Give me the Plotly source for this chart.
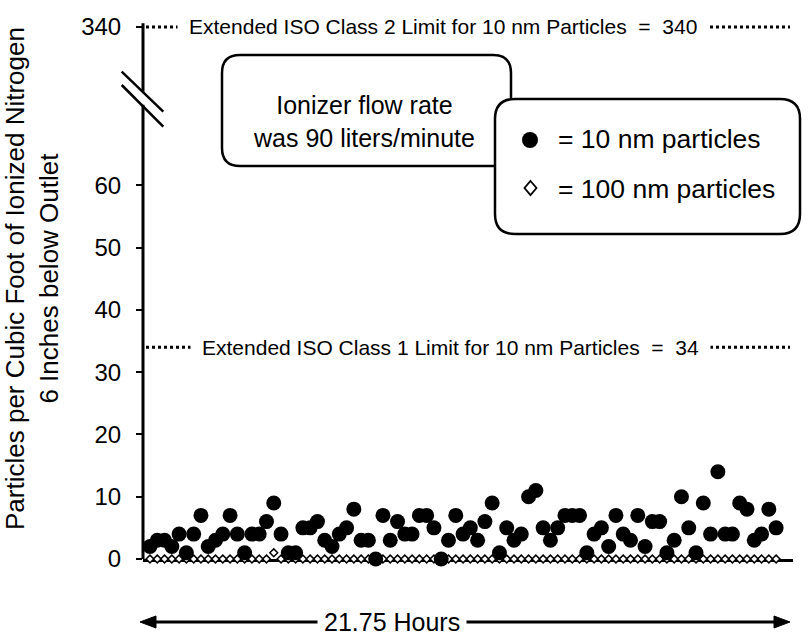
import plotly.graph_objects as go
import numpy as np

# ---------------- data ----------------
nm10 = [2, 3, 3, 2, 4, 1, 4, 7, 2, 3,
        4, 7, 4, 1, 4, 4, 6, 9, 4, 1,
        1, 5, 5, 6, 3, 2, 4, 5, 8, 3,
        3, 0, 7, 3, 6, 4, 4, 7, 7, 5,
        0, 3, 7, 4, 5, 3, 6, 9, 1, 5,
        3, 4, 10, 11, 5, 3, 5, 7, 7, 7,
        1, 4, 5, 2, 7, 4, 3, 7, 2, 6,
        6, 1, 3, 10, 5, 1, 9, 4, 14, 4,
        4, 9, 8, 3, 4, 8, 5]
nm100 = [0] * 17 + [1] + [0] * 69
hours = list(np.arange(len(nm10)) * 0.25)   # one sample every 15 minutes

ytick_vals = [0, 10, 20, 30, 40, 50, 60]
class1_limit = 34
class2_limit = 340
class2_pos = 85.4          # where 340 sits above the axis break
break_low, break_high = 72.9, 75.0
axis_top = 86.0

class1_text = "Extended ISO Class 1 Limit for 10 nm Particles  =  34"
class2_text = "Extended ISO Class 2 Limit for 10 nm Particles  =  340"
note_text = "Ionizer flow rate<br>was 90 liters/minute"
legend10 = "= 10 nm particles"
legend100 = "= 100 nm particles"
xlabel = "21.75 Hours"
ytitle = "Particles per Cubic Foot of Ionized Nitrogen<br>6 Inches below Outlet"

# ---------------- geometry helpers ----------------
W, H = 812, 639
L, R, T, B = 143, 793, 20, 559
FONT = "Arial, Liberation Sans, sans-serif"


def px(x):
    return (x - L) / (R - L)


def py(y):
    return (B - y) / (B - T)


def rrect(x0, y0, x1, y1, r):
    pts = [("M", x0 + r, y0), ("L", x1 - r, y0), ("Q", x1, y0, x1, y0 + r),
           ("L", x1, y1 - r), ("Q", x1, y1, x1 - r, y1), ("L", x0 + r, y1),
           ("Q", x0, y1, x0, y1 - r), ("L", x0, y0 + r), ("Q", x0, y0, x0 + r, y0)]
    s = ""
    for p in pts:
        cmd = p[0]
        coords = p[1:]
        parts = []
        for i in range(0, len(coords), 2):
            parts.append(f"{px(coords[i]):.5f},{py(coords[i+1]):.5f}")
        s += cmd + " " + " ".join(parts) + " "
    return s + "Z"


def poly(points):
    s = "M " + " L ".join(f"{px(a):.5f},{py(b):.5f}" for a, b in points) + " Z"
    return s


fig = go.Figure()

fig.add_trace(go.Scatter(
    x=hours, y=nm100, mode="markers", cliponaxis=False,
    marker=dict(symbol="diamond", size=6, color="white",
                line=dict(color="black", width=1.5)),
    showlegend=False, hoverinfo="skip"))
fig.add_trace(go.Scatter(
    x=hours, y=nm10, mode="markers", cliponaxis=False,
    marker=dict(symbol="circle", size=15, color="black",
                line=dict(width=0)),
    showlegend=False, hoverinfo="skip"))

shapes = []
# y axis line with break
shapes.append(dict(type="line", xref="paper", yref="y", x0=0, x1=0, y0=0, y1=break_low,
                   line=dict(color="black", width=3)))
shapes.append(dict(type="line", xref="paper", yref="y", x0=0, x1=0, y0=break_high, y1=axis_top,
                   line=dict(color="black", width=3)))
for (a, b, c, d) in [(121.7, 71.7, 163.3, 111.7), (121.7, 85.0, 163.3, 126.7)]:
    shapes.append(dict(type="line", xref="paper", yref="paper",
                       x0=px(a), y0=py(b), x1=px(c), y1=py(d),
                       line=dict(color="black", width=2.5)))
# limit lines (dotted)
for yv in [class1_limit, class2_pos]:
    shapes.append(dict(type="line", xref="paper", yref="y", x0=px(146), x1=px(790),
                       y0=yv, y1=yv, line=dict(color="black", width=3, dash="3px,3px")))
# note box and legend box
shapes.append(dict(type="path", xref="paper", yref="paper",
                   path=rrect(222, 55, 511, 166, 18),
                   line=dict(color="black", width=2.5), fillcolor="white"))
shapes.append(dict(type="path", xref="paper", yref="paper",
                   path=rrect(495, 99, 800, 234, 20),
                   line=dict(color="black", width=2.5), fillcolor="white"))
# legend symbols
shapes.append(dict(type="circle", xref="paper", yref="paper",
                   x0=px(522), x1=px(538), y0=py(132), y1=py(148),
                   line=dict(color="black", width=0), fillcolor="black"))
shapes.append(dict(type="path", xref="paper", yref="paper",
                   path=poly([(530.5, 181), (536.5, 188), (530.5, 195), (524.5, 188)]),
                   line=dict(color="black", width=1.8), fillcolor="white"))
# bottom double arrow
shapes.append(dict(type="line", xref="paper", yref="paper",
                   x0=px(150), x1=px(780), y0=py(622), y1=py(622),
                   line=dict(color="black", width=3)))
shapes.append(dict(type="path", xref="paper", yref="paper",
                   path=poly([(140, 622), (156, 616), (156, 628)]),
                   line=dict(color="black", width=1), fillcolor="black"))
shapes.append(dict(type="path", xref="paper", yref="paper",
                   path=poly([(790, 622), (774, 616), (774, 628)]),
                   line=dict(color="black", width=1), fillcolor="black"))

annotations = []
annotations.append(dict(xref="paper", yref="y", x=px(450), y=class1_limit, text=class1_text,
                        showarrow=False, font=dict(family=FONT, size=21, color="black"),
                        bgcolor="white", borderpad=11, xanchor="center", yanchor="middle"))
annotations.append(dict(xref="paper", yref="y", x=px(443), y=class2_pos, text=class2_text,
                        showarrow=False, font=dict(family=FONT, size=21, color="black"),
                        bgcolor="white", borderpad=11, xanchor="center", yanchor="middle"))
annotations.append(dict(xref="paper", yref="paper", x=px(364), y=py(121), text=note_text,
                        showarrow=False, font=dict(family=FONT, size=25, color="black"),
                        align="center", xanchor="center", yanchor="middle"))
annotations.append(dict(xref="paper", yref="paper", x=px(556), y=py(139), text=legend10,
                        showarrow=False, font=dict(family=FONT, size=26.5, color="black"),
                        xanchor="left", yanchor="middle"))
annotations.append(dict(xref="paper", yref="paper", x=px(556), y=py(189), text=legend100,
                        showarrow=False, font=dict(family=FONT, size=26.5, color="black"),
                        xanchor="left", yanchor="middle"))
annotations.append(dict(xref="paper", yref="paper", x=px(392), y=py(622), text=xlabel,
                        showarrow=False, font=dict(family=FONT, size=25, color="black"),
                        bgcolor="white", borderpad=6, xanchor="center", yanchor="middle"))
annotations.append(dict(xref="paper", yref="paper", x=px(32), y=py(279), text=ytitle,
                        showarrow=False, textangle=-90,
                        font=dict(family=FONT, size=26, color="black"),
                        align="center", xanchor="center", yanchor="middle"))

fig.update_layout(
    width=W, height=H,
    margin=dict(l=L, r=W - R, t=T, b=H - B, pad=0),
    paper_bgcolor="white", plot_bgcolor="white",
    showlegend=False,
    shapes=shapes, annotations=annotations,
    xaxis=dict(range=[-0.24, 22.08], showline=True, linewidth=3, linecolor="black",
               showticklabels=False, ticks="", showgrid=False, zeroline=False,
               layer="below traces", fixedrange=True),
    yaxis=dict(range=[0, (B - T) / 6.23],
               tickvals=ytick_vals + [class2_pos],
               ticktext=[str(v) for v in ytick_vals] + [str(class2_limit)],
               ticks="outside", ticklen=6, tickwidth=2, tickcolor="black",
               tickfont=dict(family=FONT, size=24, color="black"),
               ticklabelstandoff=10,
               showline=False, showgrid=False, zeroline=False, fixedrange=True),
    font=dict(family=FONT, color="black"),
)

fig.write_html("out.html", config={"displayModeBar": False},
               post_script="document.body.style.margin='0';")
